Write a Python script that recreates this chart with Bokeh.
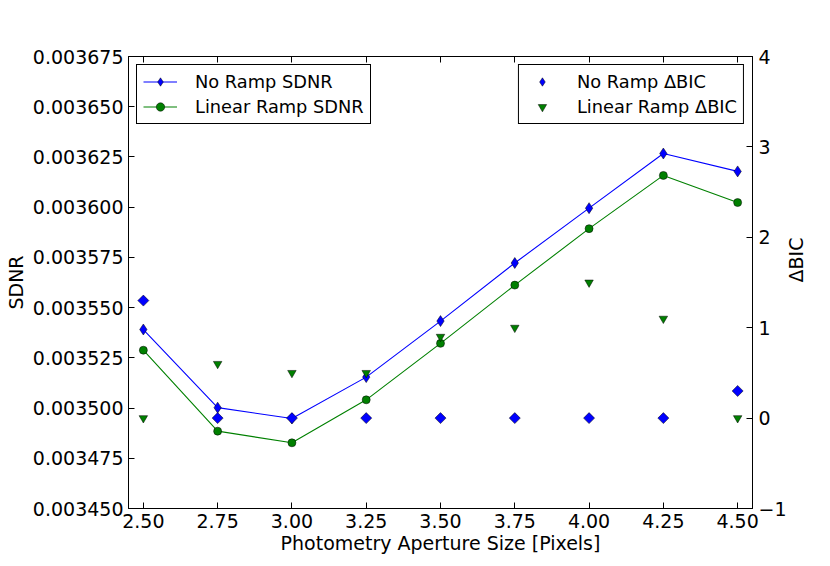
from bokeh.plotting import figure
from bokeh.models import (Range1d, LinearAxis, FixedTicker, PrintfTickFormatter,
                          CustomJSTickFormatter, Legend, LegendItem)
from bokeh.embed import file_html
from bokeh.resources import INLINE
import math

# ---- data ----
aperture = [2.50, 2.75, 3.00, 3.25, 3.50, 3.75, 4.00, 4.25, 4.50]
no_ramp_sdnr = [0.0035391, 0.0035002, 0.0034948, 0.0035154, 0.0035433,
                0.0035722, 0.0035995, 0.0036267, 0.0036178]
linear_ramp_sdnr = [0.0035288, 0.0034885, 0.0034827, 0.0035041, 0.0035322,
                    0.0035612, 0.0035893, 0.0036158, 0.0036023]
no_ramp_bic = [1.3, 0.0, 0.0, 0.0, 0.0, 0.0, 0.0, 0.0, 0.3]
linear_ramp_bic = [0.0, 0.6, 0.5, 0.5, 0.9, 1.0, 1.5, 1.1, 0.0]

x_ticks = [2.50, 2.75, 3.00, 3.25, 3.50, 3.75, 4.00, 4.25, 4.50]
sdnr_ticks = [0.003450, 0.003475, 0.003500, 0.003525, 0.003550, 0.003575,
              0.003600, 0.003625, 0.003650, 0.003675]
bic_ticks = [-1, 0, 1, 2, 3, 4]

FONT = "DejaVu Sans"
TICK_FS = "19px"
LEG_FS = "17.8px"
BLUE = "#0000ff"
GREEN = "#008000"

p = figure(width=830, height=566, output_backend="svg", toolbar_location=None,
           x_range=Range1d(2.45, 4.55), y_range=Range1d(0.00345, 0.003675),
           min_border_left=128, min_border_right=78, min_border_top=56,
           min_border_bottom=58, x_axis_label="Photometry Aperture Size [Pixels]",
           y_axis_label="SDNR")
p.extra_y_ranges = {"bic": Range1d(-1, 4)}
p.grid.visible = False
p.outline_line_color = "black"
p.outline_line_width = 1
p.background_fill_color = "white"
p.border_fill_color = "white"

bottom = p.below[0]
left = p.left[0]
bottom.ticker = FixedTicker(ticks=x_ticks)
bottom.formatter = PrintfTickFormatter(format="%.2f")
left.ticker = FixedTicker(ticks=sdnr_ticks)
left.formatter = PrintfTickFormatter(format="%.6f")

right = LinearAxis(y_range_name="bic", axis_label="\u0394BIC",
                   ticker=FixedTicker(ticks=bic_ticks),
                   formatter=CustomJSTickFormatter(code="return tick < 0 ? '\u2212' + (-tick) : '' + tick;"))
p.add_layout(right, "right")
top = LinearAxis(ticker=FixedTicker(ticks=x_ticks), major_label_standoff=0)
p.add_layout(top, "above")

for ax in [bottom, left, right, top]:
    ax.major_tick_in = 6
    ax.major_tick_out = 0
    ax.minor_tick_line_color = None
    ax.axis_line_color = "black"
    ax.major_tick_line_color = "black"
    ax.major_label_text_font = FONT
    ax.major_label_text_font_size = TICK_FS
    ax.axis_label_text_font = FONT
    ax.axis_label_text_font_style = "normal"
    ax.axis_label_text_font_size = TICK_FS
    ax.axis_label_text_color = "black"
    ax.major_label_text_color = "black"
    ax.major_label_standoff = 5
    ax.axis_label_standoff = 3
bottom.axis_label_standoff = 1
right.major_label_standoff = 6
right.axis_label_standoff = 6
top.major_label_text_font_size = "0px"
top.major_label_text_color = None
top.major_label_standoff = 0

# right-hand axis title should read bottom to top, like the left one
try:
    right.axis_label_orientation = math.pi / 2
except Exception:
    pass

# ---- glyphs ----
l1 = p.line(aperture, no_ramp_sdnr, line_color=BLUE, line_width=1.1)
s1 = p.scatter(aperture, no_ramp_sdnr, marker="diamond", size=11,
               fill_color=BLUE, line_color="black", line_width=0.5)
l2 = p.line(aperture, linear_ramp_sdnr, line_color=GREEN, line_width=1.1)
s2 = p.scatter(aperture, linear_ramp_sdnr, marker="circle", size=8,
               fill_color=GREEN, line_color="black", line_width=0.5)
s3 = p.scatter(aperture, no_ramp_bic, marker="square", angle=math.pi / 4, size=7.8,
               fill_color=BLUE, line_color="black", line_width=0.5, y_range_name="bic")
s4 = p.scatter(aperture, linear_ramp_bic, marker="inverted_triangle", size=8.5,
               fill_color=GREEN, line_color="black", line_width=0.5, y_range_name="bic")
# hidden legend proxy for the diamond markers (legend glyphs ignore marker angle)
s3_proxy = p.scatter(aperture, no_ramp_bic, marker="diamond", size=11, fill_color=BLUE,
                     line_color="black", line_width=0.5, y_range_name="bic",
                     visible=False)

def make_legend(items, loc):
    return Legend(items=items, location=loc, margin=8, padding=6, spacing=4,
                  glyph_width=34, glyph_height=21, label_height=21, label_standoff=18,
                  label_text_font=FONT, label_text_font_size=LEG_FS,
                  label_text_color="black", border_line_color="black",
                  border_line_width=1, border_line_alpha=1.0,
                  background_fill_color="white", background_fill_alpha=1.0,
                  inactive_fill_alpha=0.0)

leg1 = make_legend([LegendItem(label="No Ramp SDNR", renderers=[l1, s1]),
                    LegendItem(label="Linear Ramp SDNR", renderers=[l2, s2])], "top_left")
leg2 = make_legend([LegendItem(label="No Ramp \u0394BIC", renderers=[s3_proxy]),
                    LegendItem(label="Linear Ramp \u0394BIC", renderers=[s4])], "top_right")
p.add_layout(leg1)
p.add_layout(leg2)

open("out.html", "w").write(file_html(p, INLINE))
